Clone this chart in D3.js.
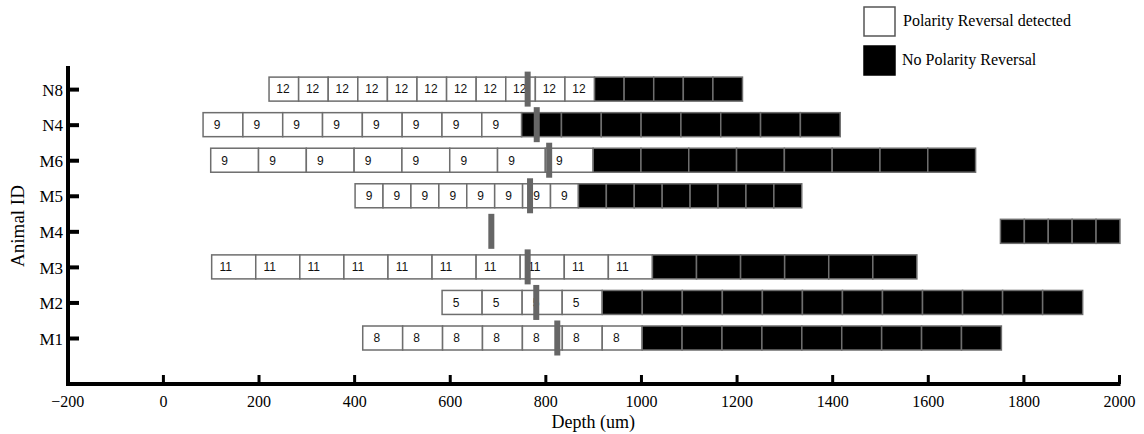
<!DOCTYPE html>
<html>
<head>
<meta charset="utf-8">
<script src="https://cdn.jsdelivr.net/npm/d3@7"></script>
<style>
  html, body { margin: 0; padding: 0; background: #fff; }
  svg { display: block; }
</style>
</head>
<body>
<svg id="chart" width="1144" height="434"></svg>
<script>
// ---- data ----
const animals      = ["M1", "M2", "M3", "M4", "M5", "M6", "N4", "N8"];
const segStart     = [418, 584, 102, 1752, 402, 100, 84, 222];      // depth of first box (um)
const segWidth     = [83.5, 83.75, 92.2, 50, 58.4, 100, 83.3, 61.9]; // depth per box (um)
const reversalBoxes   = [7, 4, 10, 0, 8, 8, 8, 11];   // white boxes
const noReversalBoxes = [9, 12, 6, 5, 8, 8, 8, 5];    // black boxes
const boxLabels    = ["8", "5", "11", "", "9", "9", "9", "12"];
const markerDepth  = [825, 781, 763, 687, 768, 808, 782, 763];
const xTicks       = [-200, 0, 200, 400, 600, 800, 1000, 1200, 1400, 1600, 1800, 2000];
const legendItems  = ["Polarity Reversal detected", "No Polarity Reversal"];

// ---- layout ----
const svg = d3.select("#chart");
const x = d3.scaleLinear().domain([-200, 2000]).range([67.3, 1119]);
const y = d3.scaleLinear().domain([-0.35, 8.65]).range([386, 66]);
const rowIndex = d => animals.indexOf(d) + 1;
const boxH = 24;
const serif = "'Liberation Serif', 'Times New Roman', serif";

// boxes
const boxes = [];
animals.forEach((a, i) => {
  const n = reversalBoxes[i] + noReversalBoxes[i];
  for (let k = 0; k < n; k++) {
    boxes.push({
      animal: a,
      x0: segStart[i] + k * segWidth[i],
      x1: segStart[i] + (k + 1) * segWidth[i],
      white: k < reversalBoxes[i],
      label: boxLabels[i]
    });
  }
});

const g = svg.append("g");
g.selectAll("rect.box").data(boxes).enter().append("rect")
  .attr("class", "box")
  .attr("x", d => x(d.x0))
  .attr("y", d => y(rowIndex(d.animal)) - boxH / 2)
  .attr("width", d => x(d.x1) - x(d.x0))
  .attr("height", boxH)
  .attr("fill", d => d.white ? "#fff" : "#000")
  .attr("stroke", "#6e6e6e")
  .attr("stroke-width", 1.5);

g.selectAll("text.lbl").data(boxes.filter(d => d.white)).enter().append("text")
  .attr("class", "lbl")
  .attr("x", d => x(d.x0) + Math.min((x(d.x1) - x(d.x0)) / 2, 14))
  .attr("y", d => y(rowIndex(d.animal)))
  .attr("dy", "0.36em")
  .attr("text-anchor", "middle")
  .attr("font-family", "'Liberation Sans', Arial, sans-serif")
  .attr("font-size", 12)
  .attr("fill", "#111")
  .text(d => d.label);

// markers
g.selectAll("rect.marker").data(animals).enter().append("rect")
  .attr("class", "marker")
  .attr("x", (d, i) => x(markerDepth[i]) - 3)
  .attr("y", d => y(rowIndex(d)) - 17.5)
  .attr("width", 6)
  .attr("height", 35)
  .attr("fill", "#666");

// axes
const xAxis = d3.axisBottom(x).tickValues(xTicks).tickSize(0).tickPadding(0)
  .tickFormat(d => d < 0 ? "\u2212" + Math.abs(d) : d);
const gx = svg.append("g").attr("transform", "translate(0,384)").call(xAxis);
gx.select(".domain").remove();
gx.selectAll("text").attr("font-family", serif).attr("font-size", 16).attr("fill", "#000")
  .attr("y", 23).attr("dy", 0);
gx.selectAll(".tick").append("line")
  .attr("y1", 0).attr("y2", -9).attr("stroke", "#000").attr("stroke-width", 3);

const yAxis = d3.axisLeft(y).tickValues(animals.map(rowIndex)).tickSize(0).tickPadding(0)
  .tickFormat(d => animals[d - 1]);
const gy = svg.append("g").attr("transform", "translate(68,0)").call(yAxis);
gy.select(".domain").remove();
gy.selectAll("text").attr("font-family", serif).attr("font-size", 17).attr("fill", "#000")
  .attr("x", -5).attr("dy", "0.36em");
gy.selectAll(".tick").append("line")
  .attr("x1", 0).attr("x2", 11).attr("stroke", "#000").attr("stroke-width", 4);

// axis lines
svg.append("line").attr("x1", 68).attr("x2", 68).attr("y1", 66).attr("y2", 386)
  .attr("stroke", "#000").attr("stroke-width", 4);
svg.append("line").attr("x1", 66).attr("x2", x(2000) + 1.5).attr("y1", 384).attr("y2", 384)
  .attr("stroke", "#000").attr("stroke-width", 4);

// axis titles
svg.append("text").attr("x", x(900)).attr("y", 428).attr("text-anchor", "middle")
  .attr("font-family", serif).attr("font-size", 18).text("Depth (um)");
svg.append("text").attr("transform", "translate(24,226) rotate(-90)").attr("text-anchor", "middle")
  .attr("font-family", serif).attr("font-size", 19).text("Animal ID");

// legend
const lg = svg.append("g");
lg.selectAll("rect").data(legendItems).enter().append("rect")
  .attr("x", 864).attr("y", (d, i) => 7 + i * 39)
  .attr("width", 31).attr("height", 29)
  .attr("fill", (d, i) => i === 0 ? "#fff" : "#000")
  .attr("stroke", (d, i) => i === 0 ? "#555" : "#000").attr("stroke-width", 1.5);
lg.selectAll("text").data(legendItems).enter().append("text")
  .attr("x", (d, i) => i === 0 ? 903 : 902).attr("y", (d, i) => 26 + i * 39)
  .attr("font-family", serif).attr("font-size", 16).attr("fill", "#000")
  .text(d => d);
</script>
</body>
</html>
